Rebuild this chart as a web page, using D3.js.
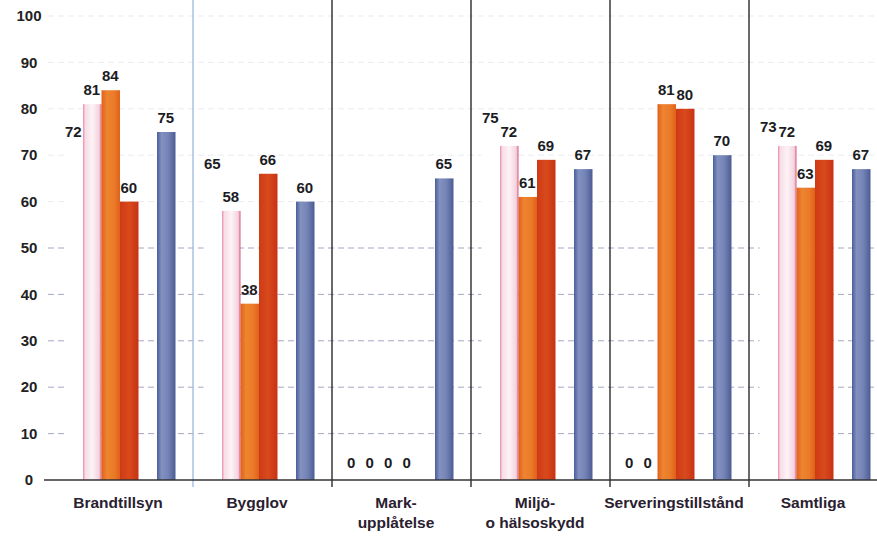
<!DOCTYPE html>
<html>
<head>
<meta charset="utf-8">
<script src="https://cdn.jsdelivr.net/npm/d3@7"></script>
<style>
  body { margin: 0; background: #fff; }
  text { font-family: "Liberation Sans", Arial, sans-serif; }
</style>
</head>
<body>
<div id="chart"></div>
<script>
// categories and series
const categories = ["Brandtillsyn", "Bygglov", "Mark-|upplåtelse", "Miljö-|o hälsoskydd", "Serveringstillstånd", "Samtliga"];
const seriesKeys = ["s1", "s2", "s3", "s4", "gap", "s5"];
const s1 = [72, 65, 0, 75, 0, 73];
const s2 = [81, 58, 0, 72, 0, 72];
const s3 = [84, 38, 0, 61, 81, 63];
const s4 = [60, 66, 0, 69, 80, 69];
const s5 = [75, 60, 65, 67, 70, 67];
const yTicks = [0, 10, 20, 30, 40, 50, 60, 70, 80, 90, 100];

const svgWidth = 877,
  svgHeight = 540;

const seriesData = { s1: s1, s2: s2, s3: s3, s4: s4, s5: s5 };

let svg = d3
  .select("#chart")
  .append("svg")
  .attr("width", svgWidth)
  .attr("height", svgHeight);

let x0 = d3.scaleBand().domain(categories).range([54, 888]).padding(0);
let x1 = d3.scaleBand().domain(seriesKeys).range([10, 121]).padding(0);
let y = d3.scaleLinear().domain([0, 100]).range([480, 16]);

// gradients to get the scanned bar look
const defs = svg.append("defs");
function grad(id, stops) {
  const g = defs.append("linearGradient").attr("id", id).attr("x1", "0%").attr("x2", "100%");
  stops.forEach(s => g.append("stop").attr("offset", s[0]).attr("stop-color", s[1]));
}
grad("g-s1", [["0%", "#ffffff"], ["100%", "#ffffff"]]);
grad("g-s2", [["0%", "#e88aa8"], ["12%", "#f7dce6"], ["50%", "#fdf3f6"], ["88%", "#f3d2de"], ["100%", "#d9567a"]]);
grad("g-s3", [["0%", "#e2601c"], ["30%", "#ee8530"], ["70%", "#ea7a28"], ["100%", "#e0601a"]]);
grad("g-s4", [["0%", "#cf3a16"], ["50%", "#d84a1c"], ["100%", "#c83214"]]);
grad("g-s5", [["0%", "#4a5e9a"], ["25%", "#8291c0"], ["60%", "#7584b6"], ["100%", "#4c5c94"]]);

// dashed gridlines
svg
  .append("g")
  .attr("class", "grid")
  .selectAll("line")
  .data(yTicks.slice(1))
  .enter()
  .append("line")
  .attr("x1", 48)
  .attr("x2", svgWidth)
  .attr("y1", d => y(d))
  .attr("y2", d => y(d))
  .attr("stroke", d => (d <= 50 ? "#7c82a8" : "#d6d9e6"))
  .attr("stroke-opacity", d => (d <= 50 ? 0.7 : 0.5))
  .attr("stroke-width", 1)
  .attr("stroke-dasharray", "6,4");

// y tick labels
svg
  .append("g")
  .attr("class", "y-axis")
  .selectAll("text")
  .data(yTicks)
  .enter()
  .append("text")
  .attr("x", 29)
  .attr("y", d => y(d))
  .attr("dy", "0.35em")
  .attr("text-anchor", "middle")
  .attr("font-size", 15)
  .attr("font-weight", "bold")
  .attr("fill", "#222")
  .text(d => d);

// group separators
svg
  .append("g")
  .attr("class", "separators")
  .selectAll("line")
  .data(categories.slice(1))
  .enter()
  .append("line")
  .attr("x1", d => x0(d))
  .attr("x2", d => x0(d))
  .attr("y1", 0)
  .attr("y2", 487)
  .attr("stroke", (d, i) => (i === 0 ? "#a9c2e6" : "#1a1a1a"))
  .attr("stroke-width", (d, i) => (i === 0 ? 1.5 : 1.3));

// bars
const barKeys = ["s1", "s2", "s3", "s4", "s5"];
let groups = svg
  .append("g")
  .attr("class", "bars")
  .selectAll("g")
  .data(categories)
  .enter()
  .append("g")
  .attr("transform", d => "translate(" + x0(d) + ",0)");

groups
  .selectAll("rect")
  .data((c, ci) => barKeys.map(k => ({ key: k, value: seriesData[k][ci] })))
  .enter()
  .append("rect")
  .attr("x", d => x1(d.key) + 0.5)
  .attr("width", x1.bandwidth())
  .attr("y", d => y(d.value))
  .attr("height", d => y(0) - y(d.value))
  .attr("fill", d => "url(#g-" + d.key + ")");

groups
  .selectAll("text")
  .data((c, ci) => barKeys.map(k => ({ key: k, value: seriesData[k][ci] })))
  .enter()
  .append("text")
  .attr("x", d => x1(d.key) + x1.bandwidth() / 2)
  .attr("y", d => (d.value === 0 ? y(0) - 12 : y(d.value) - 9))
  .attr("text-anchor", "middle")
  .attr("font-size", 15)
  .attr("font-weight", "bold")
  .attr("fill", "#1c1c24")
  .text(d => d.value);

// x axis line
svg
  .append("line")
  .attr("x1", 44)
  .attr("x2", svgWidth)
  .attr("y1", y(0))
  .attr("y2", y(0))
  .attr("stroke", "#333")
  .attr("stroke-width", 1.6);

// category labels
let catLabels = svg
  .append("g")
  .attr("class", "x-axis")
  .selectAll("text")
  .data(categories)
  .enter()
  .append("text")
  .attr("x", d => x0(d) + 64)
  .attr("y", 508)
  .attr("text-anchor", "middle")
  .attr("font-size", 15.5)
  .attr("font-weight", "bold")
  .attr("fill", "#2a2030");

catLabels
  .selectAll("tspan")
  .data(d => d.split("|"))
  .enter()
  .append("tspan")
  .attr("x", function() {
    return d3.select(this.parentNode).attr("x");
  })
  .attr("dy", (d, i) => (i === 0 ? 0 : 20))
  .text(d => d);
</script>
</body>
</html>
